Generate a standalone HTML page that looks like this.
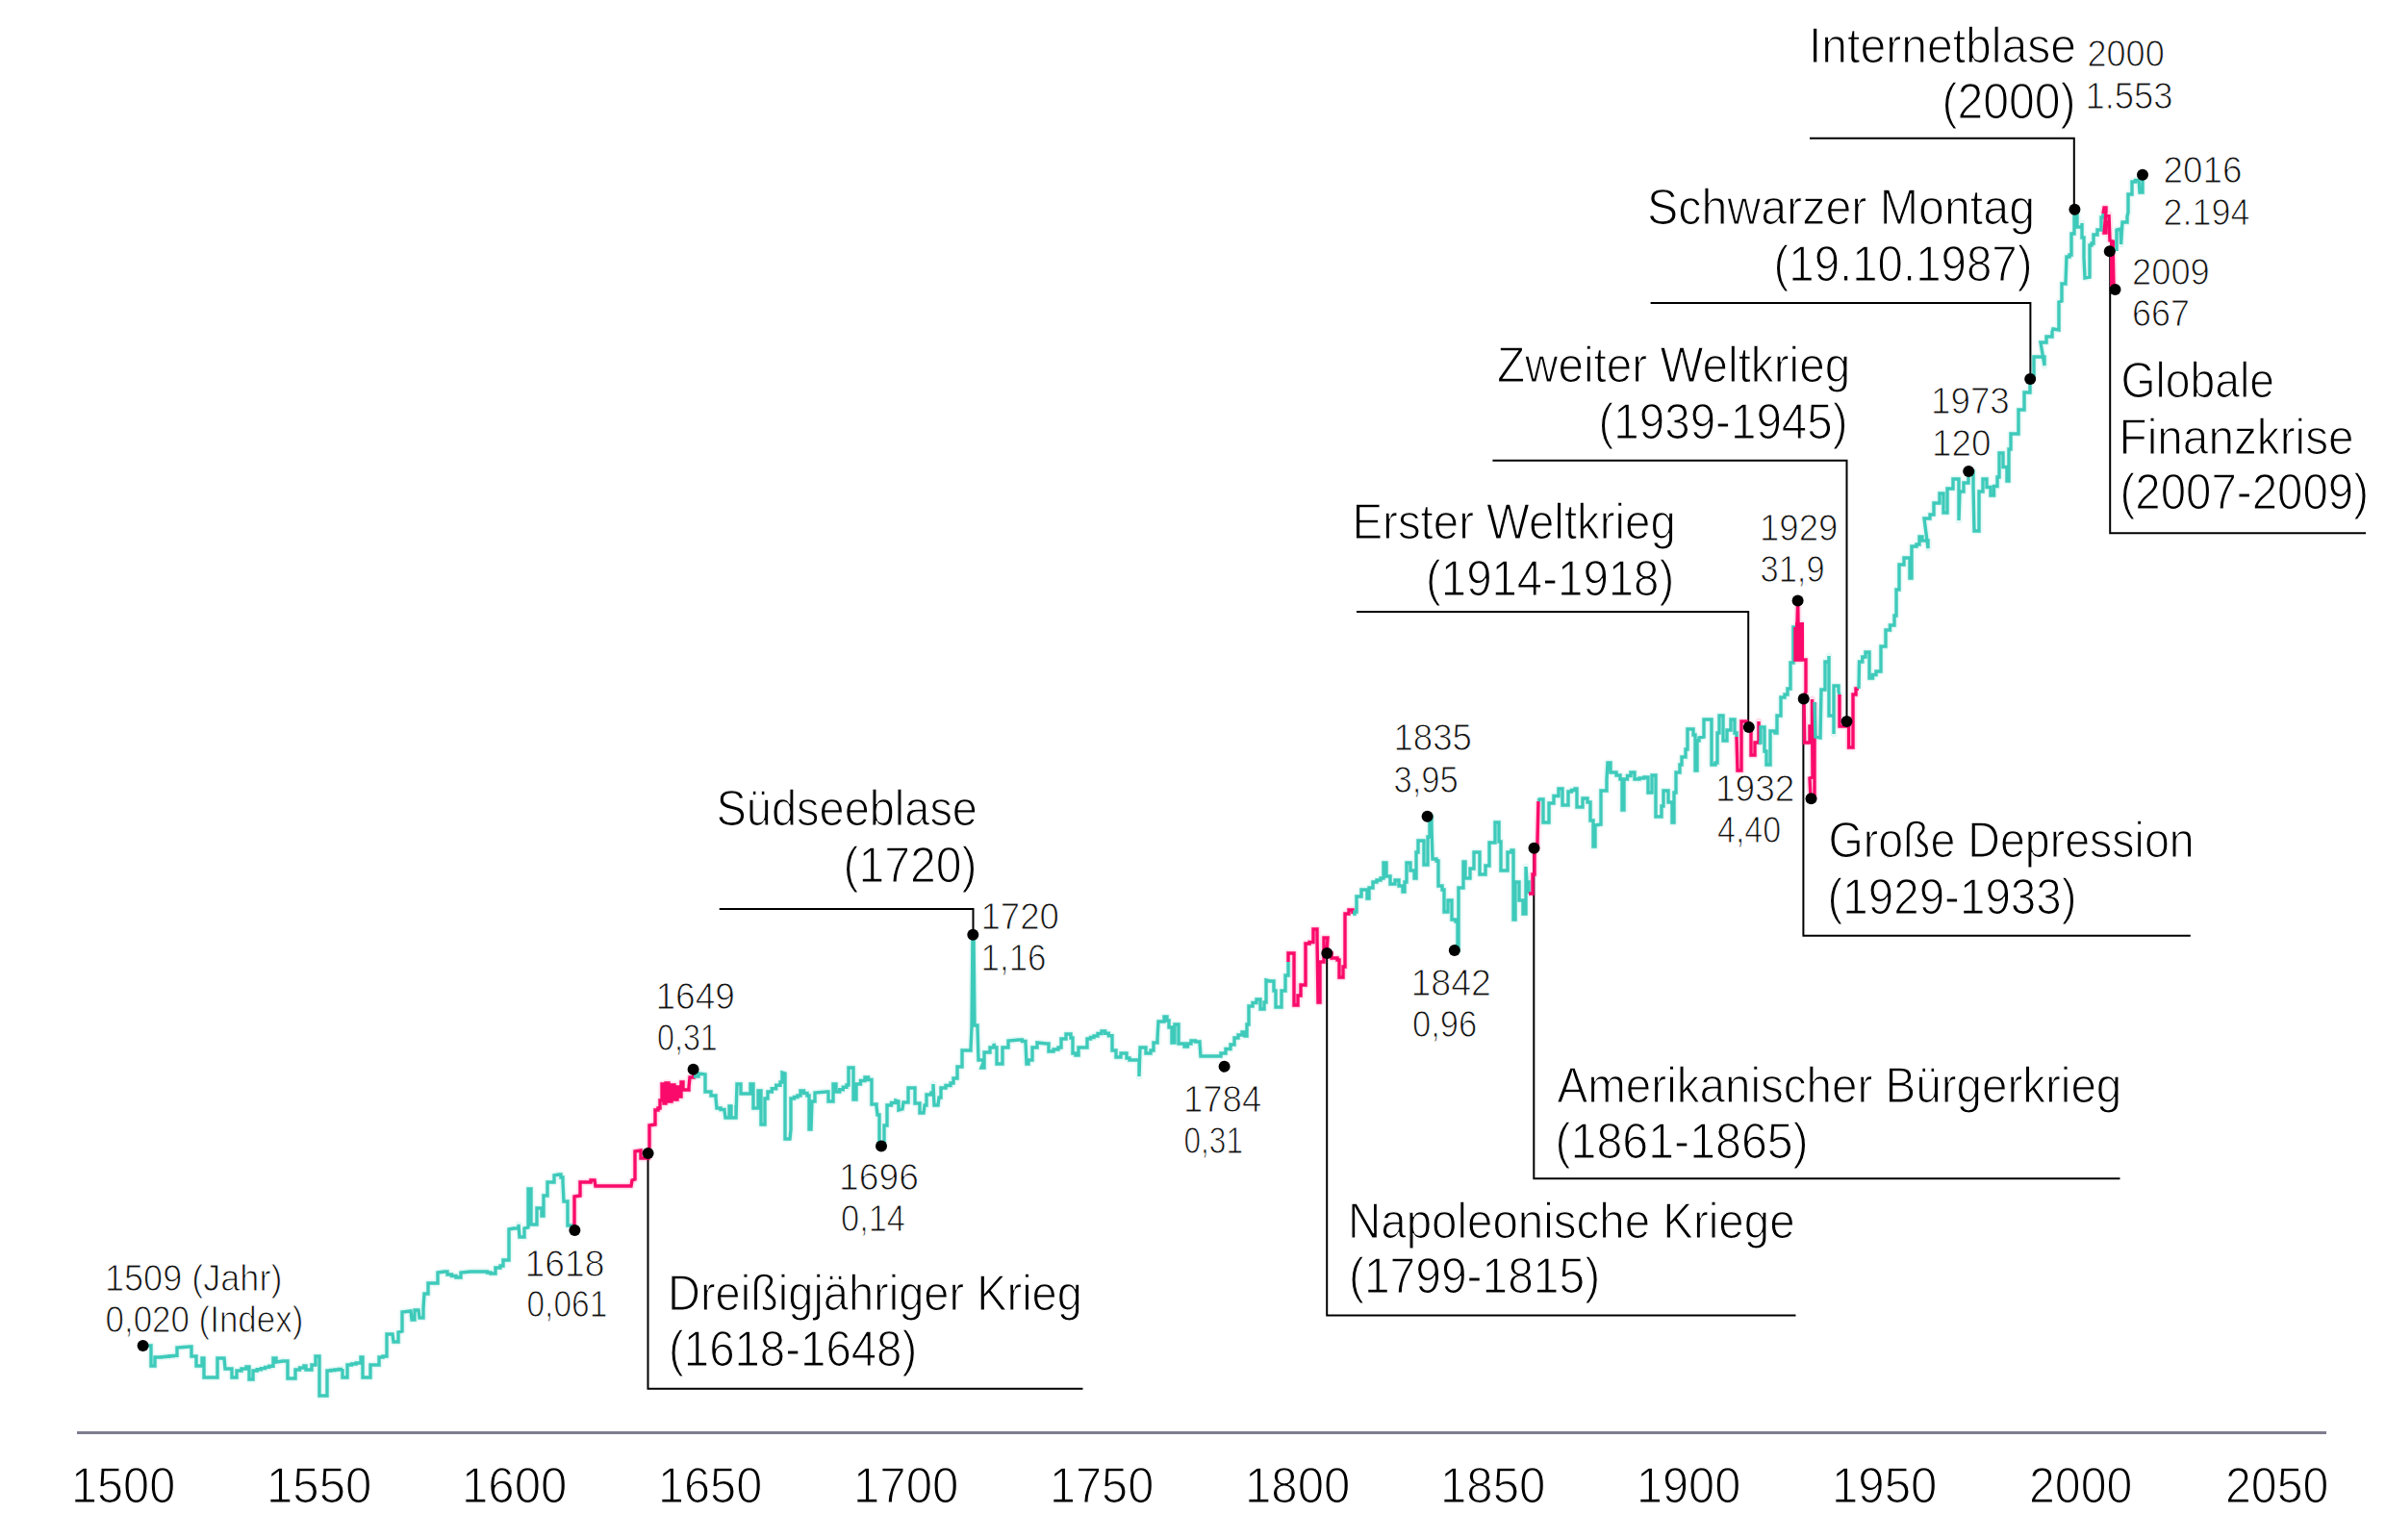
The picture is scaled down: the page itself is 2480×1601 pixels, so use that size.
<!DOCTYPE html><html><head><meta charset="utf-8"><style>html,body{margin:0;padding:0;background:#fff;width:2480px;height:1601px;overflow:hidden}svg{display:block}text{font-family:"Liberation Sans",sans-serif}</style></head><body>
<svg width="2480" height="1601" viewBox="0 0 2480 1601">
<g fill="none" stroke="#7e7c8f" stroke-width="3.2"><path d="M80,1489.5 L2418,1489.5"/></g>
<g fill="none" stroke="#000" stroke-width="2">
<path d="M673.5,1199 L673.5,1443.7 L1125.5,1443.7"/>
<path d="M747.7,945 L1011.5,945 L1011.5,972"/>
<path d="M1379.2,991 L1379.2,1367.6 L1866.5,1367.6"/>
<path d="M1594.3,882 L1594.3,1225.2 L2203.5,1225.2"/>
<path d="M1410,636 L1817.2,636 L1817.2,756"/>
<path d="M1551.4,478.8 L1919.5,478.8 L1919.5,750"/>
<path d="M1874.4,726.6 L1874.4,972.7 L2276.8,972.7"/>
<path d="M1715.6,315 L2110.4,315 L2110.4,394"/>
<path d="M1881,143.8 L2155.8,143.8 L2155.8,217.8"/>
<path d="M2193.2,261 L2193.2,554.3 L2459,554.3"/>
</g>
<g fill="none" stroke-width="7" stroke-opacity="0.13" stroke-linejoin="round">
<path stroke="#3ecaba" d="M150,1399 L157,1399 L157,1420 L161,1420 L161,1411 L164,1411 L168,1411 L168,1410.6 L172,1410.6 L172,1410.2 L176,1410.2 L176,1409.8 L180,1409.8 L180,1409.4 L184,1409.4 L184,1409 L184,1401 L197,1400 L199,1400 L199,1410 L204,1410 L204,1420 L210,1420 L210,1412 L212,1412 L212,1432 L226,1432 L226,1412 L233,1412 L234,1423 L241,1423 L241,1432 L246,1432 L246,1425 L251,1425 L251,1423 L256,1423 L256,1421 L259,1421 L259,1434 L263,1434 L263,1425 L267.2,1425 L267.2,1423.8 L271.4,1423.8 L271.4,1422.6 L275.6,1422.6 L275.6,1421.4 L279.8,1421.4 L279.8,1420.2 L284,1420.2 L284,1419 L284,1412 L287,1412 L287,1416 L294,1415 L299,1415 L299,1433 L307,1433 L307,1424 L311.5,1424 L311.5,1422 L316,1422 L316,1420 L318,1420 L318,1424 L324,1424 L324,1419 L328,1419 L328,1410 L332,1410 L332,1451 L340,1451 L340,1425 L344,1425 L344,1424.5 L348,1424.5 L348,1424 L352,1424 L352,1423.5 L356,1423.5 L356,1423 L356,1432 L361,1432 L361,1419 L365.5,1419 L365.5,1418 L370,1418 L370,1417 L375,1417 L375,1411 L377,1411 L377,1432 L385,1432 L385,1419 L394,1419 L394,1411 L398,1411 L398,1410 L402,1410 L402,1409 L402,1387 L408,1387 L409,1395 L414,1395 L414,1385 L418,1384 L418,1364 L427,1363 L428,1372 L431,1372 L431,1362 L435,1362 L436,1370 L440,1370 L440,1360 L441,1345 L445,1345 L445,1334 L452,1334 L455,1334 L455,1323 L462,1322 L465,1322 L465,1325 L469.5,1325 L469.5,1326.5 L474,1326.5 L474,1328 L479,1328 L479,1323 L489,1322 L503,1322 L506.5,1322 L506.5,1323 L510,1323 L510,1324 L515,1324 L515,1318 L520,1318 L520,1316 L523,1316 L523,1310 L529,1310 L529,1307 L529,1278 L534,1277 L539,1277 L539,1273 L540,1286 L545,1286 L545,1277 L549,1276 L549,1236 L552,1236 L552,1273 L558,1273 L558,1256 L563,1256 L563,1264 L565,1264 L565,1243 L569,1243 L569,1229 L574,1229 L576,1229 L576,1222 L581,1221 L583,1221 L583,1224 L585,1224 L585,1229 L586,1249 L590,1249 L590,1274 L596,1274 L597,1279"/>
<path stroke="#fa0a6a" d="M597,1279 L597,1244 L603,1243 L603,1229 L612,1229 L614,1229 L614,1227 L618,1227 L619,1233 L656,1233 L657,1227 L660,1226 L660,1197 L666,1196 L666,1204 L670,1204 L674,1204 L674,1199 L675,1192 L675,1170 L681,1169 L681,1154 L684,1154 L684,1152 L686,1152 L686,1144 L688,1144 L688,1127 L690,1127 L690,1147 L692,1147 L692,1126 L695,1126 L695,1145 L698,1145 L698,1128 L701,1128 L701,1143 L704,1143 L704,1130 L706,1130 L706,1140 L708,1140 L708,1125 L710,1125 L710,1133 L716,1133 L716,1130 L717,1120 L721,1120 L721,1112"/>
<path stroke="#3ecaba" d="M721,1119 L726,1119 L726,1116 L733,1117 L733,1135 L739,1135 L739,1139 L744,1139 L744,1142 L745,1152 L749,1152 L749,1153.5 L753,1153.5 L753,1155 L754,1162 L758,1162 L758,1150 L760,1150 L760,1162 L765,1162 L765,1149 L765,1162 L766,1127 L770,1127 L770,1137 L780,1137 L780,1127 L783,1127 L783,1152 L788,1152 L788,1134 L791,1134 L791,1169 L795,1169 L795,1142 L798,1142 L798,1135 L802.3,1135 L802.3,1131.7 L806.7,1131.7 L806.7,1128.3 L811,1128.3 L811,1125 L813,1125 L813,1115 L816,1116 L816,1184 L821,1184 L822,1174 L822,1142 L825.5,1142 L825.5,1140.5 L829,1140.5 L829,1139 L832,1139 L832,1134 L835.5,1134 L835.5,1136.5 L839,1136.5 L839,1139 L841,1139 L841,1174 L843,1174 L844,1145 L847,1145 L847,1136 L859,1135 L861,1135 L861,1145 L864,1145 L866,1145 L866,1127 L869,1127 L869,1129 L869,1135 L872.7,1135 L872.7,1132.7 L876.3,1132.7 L876.3,1130.3 L880,1130.3 L880,1128 L882,1128 L882,1110 L885,1110 L887,1110 L887,1143 L890,1143 L890,1127 L894.5,1127 L894.5,1123.5 L899,1123.5 L899,1120 L902.5,1120 L902.5,1122.5 L906,1122.5 L906,1125 L906,1148 L911,1148 L911,1150 L912,1159 L914,1159 L914,1190 L916,1191 L919,1191 L919,1189 L919,1170 L922,1170 L922,1168 L922,1149 L926.5,1149 L926.5,1146.5 L931,1146.5 L931,1144 L934,1145 L934,1154 L938,1153 L939,1146 L944,1146 L944,1131 L951,1131 L951,1147 L956,1147 L956,1150 L956,1157 L960,1157 L961,1149 L963,1149 L963,1138 L968,1138 L968,1136 L970,1136 L970,1127 L971,1149 L975,1149 L976,1141 L978,1141 L978,1131 L983,1131 L983,1128.5 L988,1128.5 L988,1126 L991,1126 L991,1121 L995,1121 L995,1109 L1000,1109 L1000,1107 L1000,1092 L1007,1092 L1009,1092 L1009,1090 L1010,1068 L1011,972 L1012,972 L1013,1066 L1016,1066 L1016,1068 L1017,1102 L1022,1102 L1022,1105 L1020,1110 L1023,1110 L1023,1094 L1029,1094 L1029,1089 L1033,1089 L1033,1085 L1034,1089 L1036,1089 L1036,1106 L1042,1106 L1042,1089 L1048,1089 L1048,1082 L1059,1081 L1062.5,1081 L1062.5,1082.5 L1066,1082.5 L1066,1084 L1067,1106 L1069,1106 L1069,1102 L1073,1102 L1073,1089 L1078,1089 L1078,1084 L1088,1085 L1090,1085 L1090,1093 L1095,1093 L1095,1091 L1100,1091 L1100,1089 L1103,1089 L1103,1080 L1108,1080 L1108,1075 L1113,1075 L1113,1079 L1115,1079 L1115,1095 L1118,1095 L1118,1097 L1121,1097 L1121,1089 L1127,1089 L1130,1089 L1130,1080 L1133.5,1080 L1133.5,1078.5 L1137,1078.5 L1137,1077 L1141,1077 L1141,1074.5 L1145,1074.5 L1145,1072 L1148.7,1072 L1148.7,1074.3 L1152.3,1074.3 L1152.3,1076.7 L1156,1076.7 L1156,1079 L1156,1092 L1160,1092 L1160,1094 L1160,1099 L1165,1099 L1165,1095 L1171,1095 L1171,1100 L1174,1100 L1174,1102 L1179,1102 L1184,1102 L1184,1119 L1185,1089 L1189,1089 L1191,1089 L1191,1095 L1196,1095 L1196,1092 L1199,1092 L1199,1084 L1203,1084 L1203,1080 L1204,1062 L1210,1062 L1210,1057 L1213,1057 L1213,1061 L1215,1061 L1215,1068 L1218,1068 L1218,1084 L1221,1084 L1221,1065 L1225,1065 L1225,1085 L1231,1085 L1231,1088 L1234.5,1088 L1234.5,1085 L1238,1085 L1238,1082 L1242.5,1082 L1242.5,1083 L1247,1083 L1247,1084 L1248,1098 L1252,1098 L1267,1098 L1269,1098 L1269,1095 L1274,1095 L1274,1090.5 L1279,1090.5 L1279,1086 L1283,1086 L1283,1079 L1287,1079 L1287,1076 L1291,1076 L1291,1073 L1294,1073 L1294,1077 L1296,1077 L1296,1065 L1298,1065 L1298,1062 L1298,1046 L1302,1046 L1302,1042.5 L1306,1042.5 L1306,1039 L1310,1039 L1310,1049 L1314,1049 L1314,1042 L1316,1042 L1316,1019 L1320,1020 L1324,1020 L1324,1030 L1326,1030 L1326,1047 L1332,1047 L1332,1030 L1336,1030 L1336,1028 L1336,1014 L1339,1014 L1339,1000"/>
<path stroke="#fa0a6a" d="M1339,1000 L1339,991 L1345,991 L1345,995 L1345,1045 L1349,1045 L1349,1035 L1352,1035 L1352,1024 L1357,1024 L1357,1022 L1357,981 L1361,981 L1361,979.5 L1365,979.5 L1365,978 L1365,966 L1369,966 L1369,975 L1370,1042 L1372,1042 L1372,1000 L1376,1000 L1376,975 L1380,975 L1379,991 L1384,991 L1384,996 L1390,996 L1390,998 L1392,998 L1392,1016 L1396,1016 L1396,1005 L1398,1005 L1398,950 L1402,950 L1402,946 L1406,946 L1406,950"/>
<path stroke="#3ecaba" d="M1406,950 L1408,950 L1408,948 L1410,948 L1410,932 L1415,932 L1415,925 L1421,925 L1421,934 L1423,934 L1423,923 L1427,923 L1427,917 L1431,917 L1431,915 L1435,915 L1435,913 L1438,913 L1438,897 L1441,897 L1441,911 L1445,911 L1445,919 L1450,919 L1450,915 L1454,915 L1454,921 L1458,921 L1458,927 L1460,927 L1460,917 L1462,917 L1462,897 L1466,897 L1466,905 L1470,905 L1470,913 L1472,913 L1472,886 L1474,886 L1474,874 L1480,874 L1480,899 L1484,899 L1484,870 L1486,870 L1486,855 L1484,849 L1488,849 L1488,860 L1489,893 L1493,893 L1493,895 L1495,895 L1495,921 L1499,921 L1499,925 L1501,925 L1501,948 L1505,948 L1505,936 L1509,936 L1509,956 L1513,956 L1513,958 L1515,958 L1515,981 L1512,988 L1516,988 L1516,975 L1516,923 L1521,923 L1521,921 L1521,896 L1523,896 L1523,913 L1528,913 L1528,903 L1532,903 L1532,886 L1538,886 L1538,909 L1544,909 L1544,900 L1548,900 L1548,876 L1554,876 L1554,855 L1558,855 L1558,875 L1560,875 L1560,905 L1565,905 L1567,905 L1567,886 L1571,886 L1571,884 L1573,884 L1573,956 L1575,956 L1575,917 L1579,917 L1579,936 L1583,936 L1583,950 L1586,950 L1586,901 L1587,917 L1589,917 L1589,929"/>
<path stroke="#fa0a6a" d="M1589,929 L1593,929 L1593,909 L1595,909 L1595,882 L1598,882 L1598,874 L1599,833"/>
<path stroke="#3ecaba" d="M1599,833 L1600,831 L1604,831 L1604,855 L1610,855 L1610,835 L1615,835 L1615,827.5 L1620,827.5 L1620,820 L1624,820 L1624,837 L1630,837 L1630,823 L1633.5,823 L1633.5,821.5 L1637,821.5 L1637,820 L1639,820 L1639,839 L1645,839 L1645,830 L1650,830 L1650,834 L1653,834 L1653,853 L1656,853 L1656,857 L1656,880 L1658,880 L1658,858 L1664,857 L1664,822 L1670,822 L1670,810 L1671,793 L1674,793 L1674,803 L1680,803 L1680,806 L1684,806 L1684,810 L1686,810 L1686,842 L1688,842 L1688,810 L1691.5,810 L1691.5,806.5 L1695,806.5 L1695,803 L1699,803 L1699,810 L1704,810 L1704,809 L1709,809 L1709,808 L1713,808 L1713,824 L1717,824 L1717,806 L1721,806 L1721,849 L1727,849 L1727,838 L1729,838 L1729,822 L1734,822 L1734,834 L1738,834 L1738,855 L1740,855 L1740,824 L1742,824 L1742,803 L1746,803 L1746,795 L1748,795 L1748,787 L1752,787 L1752,779 L1754,779 L1754,758 L1760,758 L1760,764 L1762,764 L1762,801 L1764,801 L1764,770 L1766,770 L1766,767 L1771,766 L1771,748 L1777,748 L1779,748 L1779,795 L1783,795 L1783,793 L1785,793 L1785,762 L1787,762 L1787,744 L1791,744 L1791,746 L1791,770 L1795,770 L1795,759 L1799,759 L1799,748 L1803,748 L1803,762 L1805,762 L1805,766"/>
<path stroke="#fa0a6a" d="M1805,766 L1806,801 L1810,801 L1810,750 L1815,750 L1815,752 L1818,752 L1818,756 L1820,756 L1820,785 L1824,785 L1824,772 L1828,772 L1828,750 L1828,772"/>
<path stroke="#3ecaba" d="M1828,772 L1830,772 L1830,756 L1834,756 L1834,781 L1836,781 L1836,795 L1840,795 L1840,760 L1845,760 L1845,762 L1847,762 L1847,744 L1851,744 L1851,725 L1855,725 L1855,722 L1858,722 L1858,716 L1861,716 L1861,689 L1864,689 L1864,652 L1866,652"/>
<path stroke="#fa0a6a" d="M1866,652 L1866,686 L1868,686 L1868,648 L1868.7,624 L1869,648 L1870,686 L1872,686 L1872,648 L1873,686 L1875,686 L1877,686 L1877,719 L1875,726 L1875.7,772 L1881,772 L1881,755 L1883.5,755 L1883.5,727 L1884,808 L1881,809 L1882,830 L1886,830 L1886,730"/>
<path stroke="#3ecaba" d="M1886,730 L1887,766 L1892,767 L1893,717 L1897,717 L1897,713 L1897,688 L1901,688 L1901,682 L1901,744 L1906,744 L1906,763 L1906,713 L1911,713 L1911,719 L1912,722"/>
<path stroke="#fa0a6a" d="M1912,722 L1912,755 L1918,755 L1920,755 L1920,750 L1921.6,750 L1921.6,777 L1926,777 L1926,747 L1926,722 L1929,722 L1929,716 L1932,716"/>
<path stroke="#3ecaba" d="M1932,716 L1932.5,688 L1935.8,688 L1935.8,683 L1939,683 L1939,678 L1943,678 L1943,705 L1946.5,705 L1946.5,701.5 L1950,701.5 L1950,698 L1955,698 L1955,672 L1960,672 L1960,655 L1964.5,655 L1964.5,650 L1969,650 L1969,645 L1969,640 L1971,640 L1971,613 L1974,613 L1974,587 L1979,587 L1979,580 L1985,580 L1985,601 L1987,601 L1987,568 L1992,568 L1992,566 L1995,566 L1995,558 L1998,558 L1998,562 L2004,562 L2004,570 L2000,539 L2006,539 L2006,535 L2010,535 L2010,523 L2016,523 L2016,513 L2020,513 L2020,533 L2024,533 L2024,508 L2030,508 L2030,498 L2036,498 L2036,541 L2037,511 L2041,511 L2041,502 L2046,502 L2046,490 L2051,490 L2051,506 L2052,552 L2057,552 L2057,511 L2061,511 L2061,498 L2065,498 L2065,506.5 L2069,506.5 L2069,515 L2072.5,515 L2072.5,505.5 L2076,505.5 L2076,496 L2078,496 L2078,471 L2082,471 L2082,485.5 L2086,485.5 L2086,500 L2088,500 L2088,467 L2090,467 L2090,451 L2096,451 L2098,451 L2098,426 L2102,426 L2104,426 L2104,408 L2110,408 L2110,394 L2112,394 L2112,390 L2114,390 L2114,371 L2121,371 L2125,371 L2125,380 L2121,356 L2127,356 L2127,350 L2133,350 L2133,345 L2134,342 L2140,343 L2140,314 L2143,313 L2143,295 L2147,295 L2147,293 L2148,267 L2151,267 L2151,265 L2153,265 L2153,243 L2156,243 L2156,241 L2156,218 L2159,218 L2159,223 L2159,236 L2164,236 L2164,232 L2164,247 L2166,247 L2166,250 L2166,268 L2167,289 L2172,288 L2172,255 L2174,255 L2174,253 L2176,253 L2176,244 L2180,244 L2180,239 L2184,239 L2184,237 L2184,226 L2186,226 L2186,222"/>
<path stroke="#fa0a6a" d="M2186,222 L2187,216 L2189,216 L2189,220 L2187,242 L2189,242 L2189,231 L2192,231 L2192,223 L2193,250 L2196,251 L2197,298"/>
<path stroke="#3ecaba" d="M2200,261 L2200,239 L2204,238 L2204.6,254 L2206,231 L2211,231 L2211,225 L2212,221 L2212,202 L2216,202 L2216,196 L2216,189 L2219.5,189 L2219.5,187.5 L2223,187.5 L2223,186 L2224,200 L2227,200 L2227,182"/>
</g>
<g fill="#fa0a6a"><rect x="1866" y="647" width="9" height="39"/><rect x="2193" y="250" width="5" height="48"/><rect x="687" y="1129" width="9" height="16"/></g>
<g fill="none" stroke-width="3.4" stroke-linejoin="miter" stroke-miterlimit="2">
<path stroke="#3ecaba" d="M150,1399 L157,1399 L157,1420 L161,1420 L161,1411 L164,1411 L168,1411 L168,1410.6 L172,1410.6 L172,1410.2 L176,1410.2 L176,1409.8 L180,1409.8 L180,1409.4 L184,1409.4 L184,1409 L184,1401 L197,1400 L199,1400 L199,1410 L204,1410 L204,1420 L210,1420 L210,1412 L212,1412 L212,1432 L226,1432 L226,1412 L233,1412 L234,1423 L241,1423 L241,1432 L246,1432 L246,1425 L251,1425 L251,1423 L256,1423 L256,1421 L259,1421 L259,1434 L263,1434 L263,1425 L267.2,1425 L267.2,1423.8 L271.4,1423.8 L271.4,1422.6 L275.6,1422.6 L275.6,1421.4 L279.8,1421.4 L279.8,1420.2 L284,1420.2 L284,1419 L284,1412 L287,1412 L287,1416 L294,1415 L299,1415 L299,1433 L307,1433 L307,1424 L311.5,1424 L311.5,1422 L316,1422 L316,1420 L318,1420 L318,1424 L324,1424 L324,1419 L328,1419 L328,1410 L332,1410 L332,1451 L340,1451 L340,1425 L344,1425 L344,1424.5 L348,1424.5 L348,1424 L352,1424 L352,1423.5 L356,1423.5 L356,1423 L356,1432 L361,1432 L361,1419 L365.5,1419 L365.5,1418 L370,1418 L370,1417 L375,1417 L375,1411 L377,1411 L377,1432 L385,1432 L385,1419 L394,1419 L394,1411 L398,1411 L398,1410 L402,1410 L402,1409 L402,1387 L408,1387 L409,1395 L414,1395 L414,1385 L418,1384 L418,1364 L427,1363 L428,1372 L431,1372 L431,1362 L435,1362 L436,1370 L440,1370 L440,1360 L441,1345 L445,1345 L445,1334 L452,1334 L455,1334 L455,1323 L462,1322 L465,1322 L465,1325 L469.5,1325 L469.5,1326.5 L474,1326.5 L474,1328 L479,1328 L479,1323 L489,1322 L503,1322 L506.5,1322 L506.5,1323 L510,1323 L510,1324 L515,1324 L515,1318 L520,1318 L520,1316 L523,1316 L523,1310 L529,1310 L529,1307 L529,1278 L534,1277 L539,1277 L539,1273 L540,1286 L545,1286 L545,1277 L549,1276 L549,1236 L552,1236 L552,1273 L558,1273 L558,1256 L563,1256 L563,1264 L565,1264 L565,1243 L569,1243 L569,1229 L574,1229 L576,1229 L576,1222 L581,1221 L583,1221 L583,1224 L585,1224 L585,1229 L586,1249 L590,1249 L590,1274 L596,1274 L597,1279"/>
<path stroke="#fa0a6a" d="M597,1279 L597,1244 L603,1243 L603,1229 L612,1229 L614,1229 L614,1227 L618,1227 L619,1233 L656,1233 L657,1227 L660,1226 L660,1197 L666,1196 L666,1204 L670,1204 L674,1204 L674,1199 L675,1192 L675,1170 L681,1169 L681,1154 L684,1154 L684,1152 L686,1152 L686,1144 L688,1144 L688,1127 L690,1127 L690,1147 L692,1147 L692,1126 L695,1126 L695,1145 L698,1145 L698,1128 L701,1128 L701,1143 L704,1143 L704,1130 L706,1130 L706,1140 L708,1140 L708,1125 L710,1125 L710,1133 L716,1133 L716,1130 L717,1120 L721,1120 L721,1112"/>
<path stroke="#3ecaba" d="M721,1119 L726,1119 L726,1116 L733,1117 L733,1135 L739,1135 L739,1139 L744,1139 L744,1142 L745,1152 L749,1152 L749,1153.5 L753,1153.5 L753,1155 L754,1162 L758,1162 L758,1150 L760,1150 L760,1162 L765,1162 L765,1149 L765,1162 L766,1127 L770,1127 L770,1137 L780,1137 L780,1127 L783,1127 L783,1152 L788,1152 L788,1134 L791,1134 L791,1169 L795,1169 L795,1142 L798,1142 L798,1135 L802.3,1135 L802.3,1131.7 L806.7,1131.7 L806.7,1128.3 L811,1128.3 L811,1125 L813,1125 L813,1115 L816,1116 L816,1184 L821,1184 L822,1174 L822,1142 L825.5,1142 L825.5,1140.5 L829,1140.5 L829,1139 L832,1139 L832,1134 L835.5,1134 L835.5,1136.5 L839,1136.5 L839,1139 L841,1139 L841,1174 L843,1174 L844,1145 L847,1145 L847,1136 L859,1135 L861,1135 L861,1145 L864,1145 L866,1145 L866,1127 L869,1127 L869,1129 L869,1135 L872.7,1135 L872.7,1132.7 L876.3,1132.7 L876.3,1130.3 L880,1130.3 L880,1128 L882,1128 L882,1110 L885,1110 L887,1110 L887,1143 L890,1143 L890,1127 L894.5,1127 L894.5,1123.5 L899,1123.5 L899,1120 L902.5,1120 L902.5,1122.5 L906,1122.5 L906,1125 L906,1148 L911,1148 L911,1150 L912,1159 L914,1159 L914,1190 L916,1191 L919,1191 L919,1189 L919,1170 L922,1170 L922,1168 L922,1149 L926.5,1149 L926.5,1146.5 L931,1146.5 L931,1144 L934,1145 L934,1154 L938,1153 L939,1146 L944,1146 L944,1131 L951,1131 L951,1147 L956,1147 L956,1150 L956,1157 L960,1157 L961,1149 L963,1149 L963,1138 L968,1138 L968,1136 L970,1136 L970,1127 L971,1149 L975,1149 L976,1141 L978,1141 L978,1131 L983,1131 L983,1128.5 L988,1128.5 L988,1126 L991,1126 L991,1121 L995,1121 L995,1109 L1000,1109 L1000,1107 L1000,1092 L1007,1092 L1009,1092 L1009,1090 L1010,1068 L1011,972 L1012,972 L1013,1066 L1016,1066 L1016,1068 L1017,1102 L1022,1102 L1022,1105 L1020,1110 L1023,1110 L1023,1094 L1029,1094 L1029,1089 L1033,1089 L1033,1085 L1034,1089 L1036,1089 L1036,1106 L1042,1106 L1042,1089 L1048,1089 L1048,1082 L1059,1081 L1062.5,1081 L1062.5,1082.5 L1066,1082.5 L1066,1084 L1067,1106 L1069,1106 L1069,1102 L1073,1102 L1073,1089 L1078,1089 L1078,1084 L1088,1085 L1090,1085 L1090,1093 L1095,1093 L1095,1091 L1100,1091 L1100,1089 L1103,1089 L1103,1080 L1108,1080 L1108,1075 L1113,1075 L1113,1079 L1115,1079 L1115,1095 L1118,1095 L1118,1097 L1121,1097 L1121,1089 L1127,1089 L1130,1089 L1130,1080 L1133.5,1080 L1133.5,1078.5 L1137,1078.5 L1137,1077 L1141,1077 L1141,1074.5 L1145,1074.5 L1145,1072 L1148.7,1072 L1148.7,1074.3 L1152.3,1074.3 L1152.3,1076.7 L1156,1076.7 L1156,1079 L1156,1092 L1160,1092 L1160,1094 L1160,1099 L1165,1099 L1165,1095 L1171,1095 L1171,1100 L1174,1100 L1174,1102 L1179,1102 L1184,1102 L1184,1119 L1185,1089 L1189,1089 L1191,1089 L1191,1095 L1196,1095 L1196,1092 L1199,1092 L1199,1084 L1203,1084 L1203,1080 L1204,1062 L1210,1062 L1210,1057 L1213,1057 L1213,1061 L1215,1061 L1215,1068 L1218,1068 L1218,1084 L1221,1084 L1221,1065 L1225,1065 L1225,1085 L1231,1085 L1231,1088 L1234.5,1088 L1234.5,1085 L1238,1085 L1238,1082 L1242.5,1082 L1242.5,1083 L1247,1083 L1247,1084 L1248,1098 L1252,1098 L1267,1098 L1269,1098 L1269,1095 L1274,1095 L1274,1090.5 L1279,1090.5 L1279,1086 L1283,1086 L1283,1079 L1287,1079 L1287,1076 L1291,1076 L1291,1073 L1294,1073 L1294,1077 L1296,1077 L1296,1065 L1298,1065 L1298,1062 L1298,1046 L1302,1046 L1302,1042.5 L1306,1042.5 L1306,1039 L1310,1039 L1310,1049 L1314,1049 L1314,1042 L1316,1042 L1316,1019 L1320,1020 L1324,1020 L1324,1030 L1326,1030 L1326,1047 L1332,1047 L1332,1030 L1336,1030 L1336,1028 L1336,1014 L1339,1014 L1339,1000"/>
<path stroke="#fa0a6a" d="M1339,1000 L1339,991 L1345,991 L1345,995 L1345,1045 L1349,1045 L1349,1035 L1352,1035 L1352,1024 L1357,1024 L1357,1022 L1357,981 L1361,981 L1361,979.5 L1365,979.5 L1365,978 L1365,966 L1369,966 L1369,975 L1370,1042 L1372,1042 L1372,1000 L1376,1000 L1376,975 L1380,975 L1379,991 L1384,991 L1384,996 L1390,996 L1390,998 L1392,998 L1392,1016 L1396,1016 L1396,1005 L1398,1005 L1398,950 L1402,950 L1402,946 L1406,946 L1406,950"/>
<path stroke="#3ecaba" d="M1406,950 L1408,950 L1408,948 L1410,948 L1410,932 L1415,932 L1415,925 L1421,925 L1421,934 L1423,934 L1423,923 L1427,923 L1427,917 L1431,917 L1431,915 L1435,915 L1435,913 L1438,913 L1438,897 L1441,897 L1441,911 L1445,911 L1445,919 L1450,919 L1450,915 L1454,915 L1454,921 L1458,921 L1458,927 L1460,927 L1460,917 L1462,917 L1462,897 L1466,897 L1466,905 L1470,905 L1470,913 L1472,913 L1472,886 L1474,886 L1474,874 L1480,874 L1480,899 L1484,899 L1484,870 L1486,870 L1486,855 L1484,849 L1488,849 L1488,860 L1489,893 L1493,893 L1493,895 L1495,895 L1495,921 L1499,921 L1499,925 L1501,925 L1501,948 L1505,948 L1505,936 L1509,936 L1509,956 L1513,956 L1513,958 L1515,958 L1515,981 L1512,988 L1516,988 L1516,975 L1516,923 L1521,923 L1521,921 L1521,896 L1523,896 L1523,913 L1528,913 L1528,903 L1532,903 L1532,886 L1538,886 L1538,909 L1544,909 L1544,900 L1548,900 L1548,876 L1554,876 L1554,855 L1558,855 L1558,875 L1560,875 L1560,905 L1565,905 L1567,905 L1567,886 L1571,886 L1571,884 L1573,884 L1573,956 L1575,956 L1575,917 L1579,917 L1579,936 L1583,936 L1583,950 L1586,950 L1586,901 L1587,917 L1589,917 L1589,929"/>
<path stroke="#fa0a6a" d="M1589,929 L1593,929 L1593,909 L1595,909 L1595,882 L1598,882 L1598,874 L1599,833"/>
<path stroke="#3ecaba" d="M1599,833 L1600,831 L1604,831 L1604,855 L1610,855 L1610,835 L1615,835 L1615,827.5 L1620,827.5 L1620,820 L1624,820 L1624,837 L1630,837 L1630,823 L1633.5,823 L1633.5,821.5 L1637,821.5 L1637,820 L1639,820 L1639,839 L1645,839 L1645,830 L1650,830 L1650,834 L1653,834 L1653,853 L1656,853 L1656,857 L1656,880 L1658,880 L1658,858 L1664,857 L1664,822 L1670,822 L1670,810 L1671,793 L1674,793 L1674,803 L1680,803 L1680,806 L1684,806 L1684,810 L1686,810 L1686,842 L1688,842 L1688,810 L1691.5,810 L1691.5,806.5 L1695,806.5 L1695,803 L1699,803 L1699,810 L1704,810 L1704,809 L1709,809 L1709,808 L1713,808 L1713,824 L1717,824 L1717,806 L1721,806 L1721,849 L1727,849 L1727,838 L1729,838 L1729,822 L1734,822 L1734,834 L1738,834 L1738,855 L1740,855 L1740,824 L1742,824 L1742,803 L1746,803 L1746,795 L1748,795 L1748,787 L1752,787 L1752,779 L1754,779 L1754,758 L1760,758 L1760,764 L1762,764 L1762,801 L1764,801 L1764,770 L1766,770 L1766,767 L1771,766 L1771,748 L1777,748 L1779,748 L1779,795 L1783,795 L1783,793 L1785,793 L1785,762 L1787,762 L1787,744 L1791,744 L1791,746 L1791,770 L1795,770 L1795,759 L1799,759 L1799,748 L1803,748 L1803,762 L1805,762 L1805,766"/>
<path stroke="#fa0a6a" d="M1805,766 L1806,801 L1810,801 L1810,750 L1815,750 L1815,752 L1818,752 L1818,756 L1820,756 L1820,785 L1824,785 L1824,772 L1828,772 L1828,750 L1828,772"/>
<path stroke="#3ecaba" d="M1828,772 L1830,772 L1830,756 L1834,756 L1834,781 L1836,781 L1836,795 L1840,795 L1840,760 L1845,760 L1845,762 L1847,762 L1847,744 L1851,744 L1851,725 L1855,725 L1855,722 L1858,722 L1858,716 L1861,716 L1861,689 L1864,689 L1864,652 L1866,652"/>
<path stroke="#fa0a6a" d="M1866,652 L1866,686 L1868,686 L1868,648 L1868.7,624 L1869,648 L1870,686 L1872,686 L1872,648 L1873,686 L1875,686 L1877,686 L1877,719 L1875,726 L1875.7,772 L1881,772 L1881,755 L1883.5,755 L1883.5,727 L1884,808 L1881,809 L1882,830 L1886,830 L1886,730"/>
<path stroke="#3ecaba" d="M1886,730 L1887,766 L1892,767 L1893,717 L1897,717 L1897,713 L1897,688 L1901,688 L1901,682 L1901,744 L1906,744 L1906,763 L1906,713 L1911,713 L1911,719 L1912,722"/>
<path stroke="#fa0a6a" d="M1912,722 L1912,755 L1918,755 L1920,755 L1920,750 L1921.6,750 L1921.6,777 L1926,777 L1926,747 L1926,722 L1929,722 L1929,716 L1932,716"/>
<path stroke="#3ecaba" d="M1932,716 L1932.5,688 L1935.8,688 L1935.8,683 L1939,683 L1939,678 L1943,678 L1943,705 L1946.5,705 L1946.5,701.5 L1950,701.5 L1950,698 L1955,698 L1955,672 L1960,672 L1960,655 L1964.5,655 L1964.5,650 L1969,650 L1969,645 L1969,640 L1971,640 L1971,613 L1974,613 L1974,587 L1979,587 L1979,580 L1985,580 L1985,601 L1987,601 L1987,568 L1992,568 L1992,566 L1995,566 L1995,558 L1998,558 L1998,562 L2004,562 L2004,570 L2000,539 L2006,539 L2006,535 L2010,535 L2010,523 L2016,523 L2016,513 L2020,513 L2020,533 L2024,533 L2024,508 L2030,508 L2030,498 L2036,498 L2036,541 L2037,511 L2041,511 L2041,502 L2046,502 L2046,490 L2051,490 L2051,506 L2052,552 L2057,552 L2057,511 L2061,511 L2061,498 L2065,498 L2065,506.5 L2069,506.5 L2069,515 L2072.5,515 L2072.5,505.5 L2076,505.5 L2076,496 L2078,496 L2078,471 L2082,471 L2082,485.5 L2086,485.5 L2086,500 L2088,500 L2088,467 L2090,467 L2090,451 L2096,451 L2098,451 L2098,426 L2102,426 L2104,426 L2104,408 L2110,408 L2110,394 L2112,394 L2112,390 L2114,390 L2114,371 L2121,371 L2125,371 L2125,380 L2121,356 L2127,356 L2127,350 L2133,350 L2133,345 L2134,342 L2140,343 L2140,314 L2143,313 L2143,295 L2147,295 L2147,293 L2148,267 L2151,267 L2151,265 L2153,265 L2153,243 L2156,243 L2156,241 L2156,218 L2159,218 L2159,223 L2159,236 L2164,236 L2164,232 L2164,247 L2166,247 L2166,250 L2166,268 L2167,289 L2172,288 L2172,255 L2174,255 L2174,253 L2176,253 L2176,244 L2180,244 L2180,239 L2184,239 L2184,237 L2184,226 L2186,226 L2186,222"/>
<path stroke="#fa0a6a" d="M2186,222 L2187,216 L2189,216 L2189,220 L2187,242 L2189,242 L2189,231 L2192,231 L2192,223 L2193,250 L2196,251 L2197,298"/>
<path stroke="#3ecaba" d="M2200,261 L2200,239 L2204,238 L2204.6,254 L2206,231 L2211,231 L2211,225 L2212,221 L2212,202 L2216,202 L2216,196 L2216,189 L2219.5,189 L2219.5,187.5 L2223,187.5 L2223,186 L2224,200 L2227,200 L2227,182"/>
</g>
<g fill="#000">
<circle cx="148.6" cy="1399" r="6"/>
<circle cx="597.4" cy="1279" r="6"/>
<circle cx="673.6" cy="1199" r="6"/>
<circle cx="720.6" cy="1111.7" r="6"/>
<circle cx="916" cy="1191.6" r="6"/>
<circle cx="1011.3" cy="971.7" r="6"/>
<circle cx="1272.6" cy="1108.7" r="6"/>
<circle cx="1379.3" cy="991" r="6"/>
<circle cx="1483.6" cy="848.7" r="6"/>
<circle cx="1511.8" cy="988" r="6"/>
<circle cx="1594.5" cy="881.8" r="6"/>
<circle cx="1817.8" cy="755.9" r="6"/>
<circle cx="1868.6" cy="624.5" r="6"/>
<circle cx="1874.7" cy="726.6" r="6"/>
<circle cx="1882.5" cy="830.2" r="6"/>
<circle cx="1919.5" cy="750" r="6"/>
<circle cx="2046.2" cy="490" r="6"/>
<circle cx="2110.2" cy="394" r="6"/>
<circle cx="2156.4" cy="217.8" r="6"/>
<circle cx="2192.8" cy="261.2" r="6"/>
<circle cx="2198.5" cy="301" r="6"/>
<circle cx="2227" cy="181.7" r="6"/>
</g>
<text x="694.00" y="1361.90" font-size="52.5" fill="#000" stroke="#fff" stroke-width="1.25" textLength="430.83" lengthAdjust="spacingAndGlyphs">Dreißigjähriger Krieg</text>
<text x="695.00" y="1420.30" font-size="52.5" fill="#000" stroke="#fff" stroke-width="1.25" textLength="258.27" lengthAdjust="spacingAndGlyphs">(1618-1648)</text>
<text x="744.50" y="857.50" font-size="52.5" fill="#000" stroke="#fff" stroke-width="1.25" textLength="271.49" lengthAdjust="spacingAndGlyphs">Südseeblase</text>
<text x="876.50" y="916.50" font-size="52.5" fill="#000" stroke="#fff" stroke-width="1.25" textLength="139.12" lengthAdjust="spacingAndGlyphs">(1720)</text>
<text x="1401.00" y="1286.50" font-size="52.5" fill="#000" stroke="#fff" stroke-width="1.25" textLength="464.54" lengthAdjust="spacingAndGlyphs">Napoleonische Kriege</text>
<text x="1402.00" y="1344.10" font-size="52.5" fill="#000" stroke="#fff" stroke-width="1.25" textLength="261.15" lengthAdjust="spacingAndGlyphs">(1799-1815)</text>
<text x="1618.50" y="1145.90" font-size="52.5" fill="#000" stroke="#fff" stroke-width="1.25" textLength="586.81" lengthAdjust="spacingAndGlyphs">Amerikanischer Bürgerkrieg</text>
<text x="1616.50" y="1203.60" font-size="52.5" fill="#000" stroke="#fff" stroke-width="1.25" textLength="263.21" lengthAdjust="spacingAndGlyphs">(1861-1865)</text>
<text x="1405.50" y="560.00" font-size="52.5" fill="#000" stroke="#fff" stroke-width="1.25" textLength="336.34" lengthAdjust="spacingAndGlyphs">Erster Weltkrieg</text>
<text x="1482.00" y="618.60" font-size="52.5" fill="#000" stroke="#fff" stroke-width="1.25" textLength="258.27" lengthAdjust="spacingAndGlyphs">(1914-1918)</text>
<text x="1556.00" y="397.30" font-size="52.5" fill="#000" stroke="#fff" stroke-width="1.25" textLength="367.14" lengthAdjust="spacingAndGlyphs">Zweiter Weltkrieg</text>
<text x="1661.50" y="456.20" font-size="52.5" fill="#000" stroke="#fff" stroke-width="1.25" textLength="259.09" lengthAdjust="spacingAndGlyphs">(1939-1945)</text>
<text x="1900.50" y="890.60" font-size="52.5" fill="#000" stroke="#fff" stroke-width="1.25" textLength="380.14" lengthAdjust="spacingAndGlyphs">Große Depression</text>
<text x="1899.50" y="949.60" font-size="52.5" fill="#000" stroke="#fff" stroke-width="1.25" textLength="259.09" lengthAdjust="spacingAndGlyphs">(1929-1933)</text>
<text x="1712.00" y="232.60" font-size="52.5" fill="#000" stroke="#fff" stroke-width="1.25" textLength="403.10" lengthAdjust="spacingAndGlyphs">Schwarzer Montag</text>
<text x="1843.50" y="291.70" font-size="52.5" fill="#000" stroke="#fff" stroke-width="1.25" textLength="268.99" lengthAdjust="spacingAndGlyphs">(19.10.1987)</text>
<text x="1880.00" y="64.90" font-size="52.5" fill="#000" stroke="#fff" stroke-width="1.25" textLength="278.03" lengthAdjust="spacingAndGlyphs">Internetblase</text>
<text x="2018.50" y="123.20" font-size="52.5" fill="#000" stroke="#fff" stroke-width="1.25" textLength="139.13" lengthAdjust="spacingAndGlyphs">(2000)</text>
<text x="2204.50" y="413.20" font-size="52.5" fill="#000" stroke="#fff" stroke-width="1.25" textLength="159.47" lengthAdjust="spacingAndGlyphs">Globale</text>
<text x="2202.50" y="472.20" font-size="52.5" fill="#000" stroke="#fff" stroke-width="1.25" textLength="244.16" lengthAdjust="spacingAndGlyphs">Finanzkrise</text>
<text x="2203.50" y="529.40" font-size="52.5" fill="#000" stroke="#fff" stroke-width="1.25" textLength="258.50" lengthAdjust="spacingAndGlyphs">(2007-2009)</text>
<text x="74.00" y="1561.60" font-size="52.5" fill="#000" stroke="#fff" stroke-width="1.25" textLength="108.24" lengthAdjust="spacingAndGlyphs">1500</text>
<text x="277.00" y="1561.60" font-size="52.5" fill="#000" stroke="#fff" stroke-width="1.25" textLength="109.37" lengthAdjust="spacingAndGlyphs">1550</text>
<text x="480.00" y="1561.60" font-size="52.5" fill="#000" stroke="#fff" stroke-width="1.25" textLength="109.37" lengthAdjust="spacingAndGlyphs">1600</text>
<text x="684.00" y="1561.60" font-size="52.5" fill="#000" stroke="#fff" stroke-width="1.25" textLength="108.24" lengthAdjust="spacingAndGlyphs">1650</text>
<text x="887.00" y="1561.60" font-size="52.5" fill="#000" stroke="#fff" stroke-width="1.25" textLength="109.37" lengthAdjust="spacingAndGlyphs">1700</text>
<text x="1091.00" y="1561.60" font-size="52.5" fill="#000" stroke="#fff" stroke-width="1.25" textLength="108.24" lengthAdjust="spacingAndGlyphs">1750</text>
<text x="1294.00" y="1561.60" font-size="52.5" fill="#000" stroke="#fff" stroke-width="1.25" textLength="109.37" lengthAdjust="spacingAndGlyphs">1800</text>
<text x="1497.00" y="1561.60" font-size="52.5" fill="#000" stroke="#fff" stroke-width="1.25" textLength="109.37" lengthAdjust="spacingAndGlyphs">1850</text>
<text x="1701.00" y="1561.60" font-size="52.5" fill="#000" stroke="#fff" stroke-width="1.25" textLength="108.24" lengthAdjust="spacingAndGlyphs">1900</text>
<text x="1904.00" y="1561.60" font-size="52.5" fill="#000" stroke="#fff" stroke-width="1.25" textLength="109.37" lengthAdjust="spacingAndGlyphs">1950</text>
<text x="2109.00" y="1561.60" font-size="52.5" fill="#000" stroke="#fff" stroke-width="1.25" textLength="107.33" lengthAdjust="spacingAndGlyphs">2000</text>
<text x="2313.00" y="1561.60" font-size="52.5" fill="#000" stroke="#fff" stroke-width="1.25" textLength="107.33" lengthAdjust="spacingAndGlyphs">2050</text>
<text x="109.00" y="1341.70" font-size="38.5" fill="#111" stroke="#fff" stroke-width="1.0" textLength="184.46" lengthAdjust="spacingAndGlyphs">1509 (Jahr)</text>
<text x="109.50" y="1384.80" font-size="38.5" fill="#111" stroke="#fff" stroke-width="1.0" textLength="205.83" lengthAdjust="spacingAndGlyphs">0,020 (Index)</text>
<text x="545.50" y="1326.50" font-size="38.5" fill="#111" stroke="#fff" stroke-width="1.0" textLength="82.88" lengthAdjust="spacingAndGlyphs">1618</text>
<text x="547.50" y="1369.40" font-size="38.5" fill="#111" stroke="#fff" stroke-width="1.0" textLength="83.79" lengthAdjust="spacingAndGlyphs">0,061</text>
<text x="681.50" y="1049.40" font-size="38.5" fill="#111" stroke="#fff" stroke-width="1.0" textLength="82.46" lengthAdjust="spacingAndGlyphs">1649</text>
<text x="683.00" y="1092.30" font-size="38.5" fill="#111" stroke="#fff" stroke-width="1.0" textLength="62.78" lengthAdjust="spacingAndGlyphs">0,31</text>
<text x="872.00" y="1236.90" font-size="38.5" fill="#111" stroke="#fff" stroke-width="1.0" textLength="82.85" lengthAdjust="spacingAndGlyphs">1696</text>
<text x="874.00" y="1280.30" font-size="38.5" fill="#111" stroke="#fff" stroke-width="1.0" textLength="66.95" lengthAdjust="spacingAndGlyphs">0,14</text>
<text x="1019.50" y="965.60" font-size="38.5" fill="#111" stroke="#fff" stroke-width="1.0" textLength="81.39" lengthAdjust="spacingAndGlyphs">1720</text>
<text x="1019.50" y="1008.50" font-size="38.5" fill="#111" stroke="#fff" stroke-width="1.0" textLength="67.99" lengthAdjust="spacingAndGlyphs">1,16</text>
<text x="1230.00" y="1156.00" font-size="38.5" fill="#111" stroke="#fff" stroke-width="1.0" textLength="81.22" lengthAdjust="spacingAndGlyphs">1784</text>
<text x="1230.50" y="1199.30" font-size="38.5" fill="#111" stroke="#fff" stroke-width="1.0" textLength="61.44" lengthAdjust="spacingAndGlyphs">0,31</text>
<text x="1448.50" y="780.00" font-size="38.5" fill="#111" stroke="#fff" stroke-width="1.0" textLength="81.43" lengthAdjust="spacingAndGlyphs">1835</text>
<text x="1448.50" y="823.50" font-size="38.5" fill="#111" stroke="#fff" stroke-width="1.0" textLength="67.34" lengthAdjust="spacingAndGlyphs">3,95</text>
<text x="1466.50" y="1034.80" font-size="38.5" fill="#111" stroke="#fff" stroke-width="1.0" textLength="83.50" lengthAdjust="spacingAndGlyphs">1842</text>
<text x="1468.00" y="1077.70" font-size="38.5" fill="#111" stroke="#fff" stroke-width="1.0" textLength="67.34" lengthAdjust="spacingAndGlyphs">0,96</text>
<text x="1783.00" y="832.80" font-size="38.5" fill="#111" stroke="#fff" stroke-width="1.0" textLength="82.40" lengthAdjust="spacingAndGlyphs">1932</text>
<text x="1785.00" y="875.70" font-size="38.5" fill="#111" stroke="#fff" stroke-width="1.0" textLength="66.20" lengthAdjust="spacingAndGlyphs">4,40</text>
<text x="1829.00" y="562.30" font-size="38.5" fill="#111" stroke="#fff" stroke-width="1.0" textLength="81.37" lengthAdjust="spacingAndGlyphs">1929</text>
<text x="1829.50" y="605.00" font-size="38.5" fill="#111" stroke="#fff" stroke-width="1.0" textLength="67.14" lengthAdjust="spacingAndGlyphs">31,9</text>
<text x="2007.00" y="429.60" font-size="38.5" fill="#111" stroke="#fff" stroke-width="1.0" textLength="81.82" lengthAdjust="spacingAndGlyphs">1973</text>
<text x="2008.00" y="473.50" font-size="38.5" fill="#111" stroke="#fff" stroke-width="1.0" textLength="61.38" lengthAdjust="spacingAndGlyphs">120</text>
<text x="2169.50" y="69.40" font-size="38.5" fill="#111" stroke="#fff" stroke-width="1.0" textLength="80.18" lengthAdjust="spacingAndGlyphs">2000</text>
<text x="2167.50" y="112.90" font-size="38.5" fill="#111" stroke="#fff" stroke-width="1.0" textLength="91.04" lengthAdjust="spacingAndGlyphs">1.553</text>
<text x="2248.50" y="190.00" font-size="38.5" fill="#111" stroke="#fff" stroke-width="1.0" textLength="81.85" lengthAdjust="spacingAndGlyphs">2016</text>
<text x="2248.50" y="233.80" font-size="38.5" fill="#111" stroke="#fff" stroke-width="1.0" textLength="89.87" lengthAdjust="spacingAndGlyphs">2.194</text>
<text x="2216.00" y="295.50" font-size="38.5" fill="#111" stroke="#fff" stroke-width="1.0" textLength="80.76" lengthAdjust="spacingAndGlyphs">2009</text>
<text x="2216.00" y="338.50" font-size="38.5" fill="#111" stroke="#fff" stroke-width="1.0" textLength="59.91" lengthAdjust="spacingAndGlyphs">667</text>
</svg></body></html>
